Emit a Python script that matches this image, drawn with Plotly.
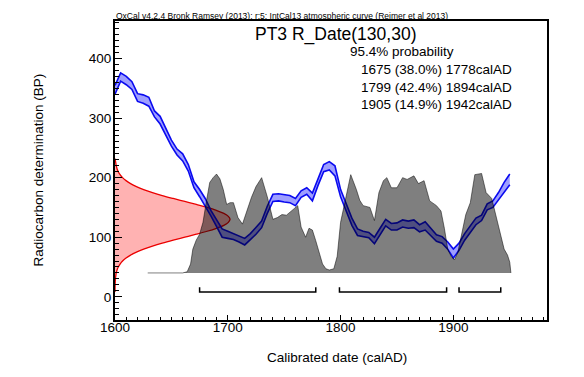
import plotly.graph_objects as go

# ---------------- data ----------------
# Measured radiocarbon date (BP) probability shape, drawn from the calendar axis origin
red_bp = [8, 15, 20, 25, 30, 35, 40, 45, 50, 55, 60, 65, 70, 75, 80, 85, 90, 95, 100, 105, 110, 115, 120, 125,
          130, 135, 140, 145, 150, 155, 160, 165, 170, 175, 180, 185, 190, 195, 200, 205, 210, 215, 220, 225, 232]
red_width = [0.0, 0.05, 0.12, 0.22, 0.4, 0.7, 1.1, 1.8, 2.9, 4.5, 6.7, 9.8, 13.8, 19.0, 25.4, 33.2, 41.9, 51.6,
             61.9, 72.1, 81.7, 89.9, 96.5, 100.5, 102.0, 100.5, 96.5, 89.9, 81.7, 72.1, 61.9, 51.6, 41.9, 33.2,
             25.4, 19.0, 13.8, 9.8, 6.7, 4.5, 2.9, 1.8, 1.1, 0.7, 0.0]

# IntCal13 calibration curve band (1 sigma)
cal_years = [1600, 1605, 1610, 1615, 1620, 1625, 1630, 1635, 1640, 1645, 1650, 1655, 1660, 1665, 1670, 1675,
             1680, 1685, 1690, 1695, 1700, 1705, 1710, 1715, 1720, 1725, 1730, 1735, 1740, 1745, 1750, 1755,
             1760, 1765, 1770, 1775, 1780, 1785, 1790, 1795, 1800, 1805, 1810, 1815, 1820, 1825, 1830, 1835,
             1840, 1845, 1850, 1855, 1860, 1865, 1870, 1875, 1880, 1885, 1890, 1895, 1900, 1905, 1910, 1915,
             1920, 1925, 1930, 1935, 1940, 1945, 1950]
cal_upper = [355, 376, 370, 361, 341, 339, 335, 312, 303, 283, 263, 248, 240, 222, 193, 180,
             165, 145, 130, 114, 110, 106, 103, 98, 106, 116, 127, 152, 172, 173, 171, 170,
             165, 178, 183, 174, 198, 222, 227, 220, 180, 155, 132, 114, 110, 108, 100, 115,
             130, 123, 124, 129, 127, 129, 121, 126, 114, 104, 101, 92, 80, 90, 106, 118,
             132, 137, 156, 161, 175, 192, 206]
cal_lower = [340, 362, 356, 348, 328, 325, 320, 302, 290, 272, 253, 238, 228, 211, 183, 168,
             153, 136, 118, 100, 98, 96, 92, 87, 96, 105, 116, 140, 160, 161, 159, 158,
             153, 167, 172, 161, 187, 210, 213, 203, 168, 145, 120, 103, 101, 99, 89, 104,
             119, 112, 112, 117, 115, 116, 109, 112, 102, 93, 90, 80, 65, 78, 95, 108,
             121, 128, 146, 150, 163, 176, 188]

# Calibrated (posterior) distribution outline, on the BP axis above its base line
post_years = [1629, 1660, 1664, 1667, 1669, 1672, 1675, 1678, 1681, 1684, 1687, 1690, 1693, 1696, 1699, 1702,
              1705, 1709, 1713, 1717, 1721, 1725, 1730, 1735, 1740, 1744, 1748, 1752, 1756, 1759, 1762, 1765,
              1769, 1772, 1775, 1778, 1781, 1784, 1787, 1790, 1794, 1797, 1800, 1805, 1809, 1814, 1817, 1820,
              1826, 1830, 1834, 1838, 1841, 1845, 1850, 1855, 1859, 1865, 1869, 1874, 1879, 1885, 1889, 1892,
              1895, 1898, 1901, 1904, 1907, 1911, 1915, 1919, 1925, 1929, 1934, 1938, 1942, 1945, 1948, 1950,
              1951]
post_top = [40, 40, 42, 55, 80, 95, 105, 125, 160, 192, 200, 206, 198, 180, 155, 158,
            158, 133, 122, 145, 167, 185, 200, 168, 130, 133, 138, 137, 144, 148, 153, 117,
            100, 115, 112, 94, 75, 55, 47, 45, 47, 68, 125, 172, 205, 180, 162, 153,
            150, 128, 175, 195, 200, 183, 183, 200, 197, 203, 190, 195, 161, 153, 144, 115,
            80, 68, 62, 75, 100, 138, 158, 205, 207, 175, 165, 135, 105, 80, 70, 58,
            40]

# 95.4% ranges
range_start = [1675, 1799, 1905]
range_end = [1778, 1894, 1942]
range_pct = [38.0, 42.4, 14.9]

x_ticks = [1600, 1700, 1800, 1900]
y_ticks = [0, 100, 200, 300, 400]

title_text = "PT3 R_Date(130,30)"
header_text = "OxCal v4.2.4 Bronk Ramsey (2013); r:5; IntCal13 atmospheric curve (Reimer et al 2013)"

# ---------------- figure ----------------
FONT = "Liberation Sans, Arial, sans-serif"
fig = go.Figure()

origin = x_ticks[0]
fig.add_trace(go.Scatter(
    x=[origin + w for w in red_width], y=red_bp, mode="lines", line=dict(color="rgb(235,0,0)", width=1.3, shape="spline"),
    fill="toself", fillcolor="rgba(255,0,0,0.3)", hoverinfo="skip"))

fig.add_trace(go.Scatter(x=cal_years, y=cal_lower, mode="lines",
                         line=dict(color="rgb(10,10,240)", width=1.6), hoverinfo="skip"))
fig.add_trace(go.Scatter(x=cal_years, y=cal_upper, mode="lines",
                         line=dict(color="rgb(10,10,240)", width=1.6), fill="tonexty",
                         fillcolor="rgba(0,0,255,0.38)", hoverinfo="skip"))

fig.add_trace(go.Scatter(x=post_years, y=post_top, mode="lines",
                         line=dict(color="rgba(0,0,0,0.5)", width=1), fill="toself",
                         fillcolor="rgba(0,0,0,0.5)", hoverinfo="skip"))

# range brackets
bx, by = [], []
for s, e in zip(range_start, range_end):
    bx += [s, s, e, e, None]
    by += [16, 8, 8, 16, None]
fig.add_trace(go.Scatter(x=bx, y=by, mode="lines", line=dict(color="black", width=1.5), hoverinfo="skip"))

# page body has an 8px margin: plot area target is x 115..547, y 19..320 in the window
OFF = 8
L, T, R, B = 115, 19, 547, 320
PW, PH = R - L, B - T


def px(xp):
    return (xp - L) / PW


def py(yp):
    return (B - yp) / PH


ann = [
    dict(text=header_text, x=px(113.5), y=py(13.5), xanchor="left", yanchor="middle", font=dict(size=8.5)),
    dict(text=title_text, x=px(335), y=py(32.8), xanchor="center", yanchor="middle", font=dict(size=17.5)),
    dict(text="95.4% probability", x=px(348.3), y=py(49.3), xanchor="left", yanchor="middle",
         font=dict(size=13.5)),
]
for i, (s, p, e) in enumerate(zip(range_start, range_pct, range_end)):
    ann.append(dict(text=f"{s} ({p:.1f}%) {e}calAD", x=px(514), y=py(68.3 + 17.5 * i),
                    xanchor="right", yanchor="middle", font=dict(size=13.5)))
ann.append(dict(text="Radiocarbon determination (BP)", x=px(38), y=0.5, textangle=-90,
                xanchor="center", yanchor="middle", font=dict(size=13.5)))
ann.append(dict(text="Calibrated date (calAD)", x=px(336.7), y=py(358),
                xanchor="center", yanchor="middle", font=dict(size=13.5)))
for a in ann:
    a.update(xref="paper", yref="paper", showarrow=False)
    a["font"].update(family=FONT, color="black")

W, H = 584 - OFF, 377 - OFF
fig.update_layout(
    width=W, height=H, margin=dict(l=L - OFF, r=W - (R - OFF), t=T - OFF, b=H - (B - OFF)),
    paper_bgcolor="white", plot_bgcolor="white", showlegend=False,
    font=dict(family=FONT, color="black", size=13.5),
    annotations=ann,
    xaxis=dict(range=[1600, 1983], tickvals=x_ticks, ticks="inside", ticklen=5, tickwidth=1.2, tickcolor="black",
               showline=True, linewidth=2, linecolor="black", mirror=True, showgrid=False, zeroline=False,
               minor=dict(dtick=10, tick0=1600, ticks="inside", ticklen=3, tickwidth=1, tickcolor="black",
                          showgrid=False),
               tickfont=dict(size=13.5), ticklabelstandoff=-6),
    yaxis=dict(range=[-39, 463], tickvals=y_ticks, ticks="inside", ticklen=7, tickwidth=1.2, tickcolor="black",
               showline=True, linewidth=2, linecolor="black", mirror=True, showgrid=False, zeroline=False,
               minor=dict(dtick=10, tick0=0, ticks="inside", ticklen=4, tickwidth=1, tickcolor="black",
                          showgrid=False),
               tickfont=dict(size=13.5), ticklabelstandoff=-1),
)

fig.write_html("out.html")
